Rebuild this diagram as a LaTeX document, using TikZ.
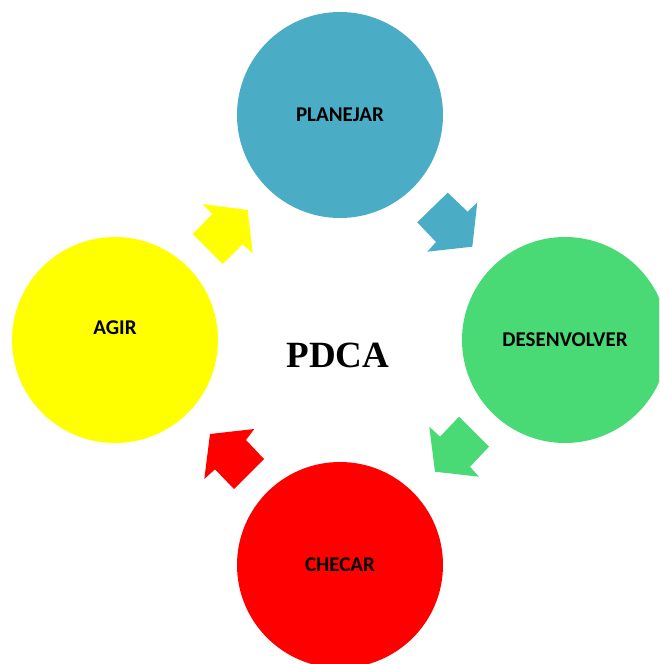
\documentclass[tikz,border=0pt]{standalone}
\usepackage{fontspec}
\setmainfont{Carlito}
\newfontfamily\pdcafont{Liberation Serif}
\definecolor{cblue}{RGB}{75,172,198}
\definecolor{cgreen}{RGB}{74,218,117}
\definecolor{cyellow}{RGB}{255,255,0}
\definecolor{cred}{RGB}{255,0,0}
\begin{document}
\begin{tikzpicture}[x=1pt,y=-1pt,
  lbl/.style={font=\fontsize{21}{21}\selectfont\bfseries},
  phase/.style={circle,minimum size=206pt,inner sep=0pt,lbl},
]
\useasboundingbox (0,0) rectangle (659,664);
\clip (0,0) rectangle (659,664);
\node[phase,fill=cblue] (plan) at (340,115) {PLANEJAR};
\node[phase,fill=cgreen] (des) at (565,340) {DESENVOLVER};
\node[phase,fill=cred] (chk) at (340,565) {CHECAR};
\node[phase,fill=cyellow] (agir) at (115,340) {};
\node[lbl] (agirlbl) at (115,328) {AGIR};
\node[font=\pdcafont\fontsize{37}{37}\selectfont\bfseries] (pdca) at (338,355) {PDCA};
% arrows
\fill[cblue] (447.7,192.7) -- (417.3,222.3) -- (436,242) -- (427.3,251.7) -- (472.3,246.7) -- (477.3,202.3) -- (467.7,211.7) -- cycle;
\fill[cgreen] (459,416.7) -- (489,446.7) -- (470,466.7) -- (479,476.7) -- (435,471.7) -- (429.3,426.7) -- (440,436.7) -- cycle;
\fill[cred] (254.3,429) -- (246,440) -- (264,459) -- (234,489) -- (215,469.3) -- (204.3,479) -- (210,434) -- cycle;
\fill[cyellow] (202.3,204) -- (212.3,214) -- (192.7,234) -- (222.7,264) -- (242.7,244.3) -- (252.7,253.3) -- (247.7,210) -- cycle;
\end{tikzpicture}
\end{document}
